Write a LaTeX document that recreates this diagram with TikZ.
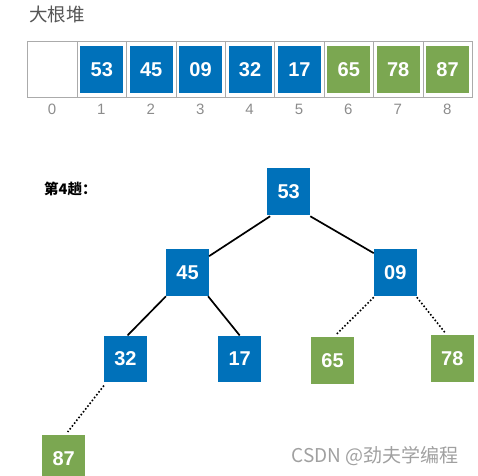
\documentclass[tikz,border=0pt]{standalone}
\usepackage{fontspec}
\setmainfont{Liberation Sans}
\newfontfamily\cjk{Noto Sans CJK SC}
\usetikzlibrary{calc}
\definecolor{hblue}{HTML}{0071BA}
\definecolor{hgreen}{HTML}{7BA751}
\definecolor{cellgray}{HTML}{ABABAB}
\definecolor{idxgray}{HTML}{8C8C8C}
\definecolor{titlegray}{HTML}{555555}
\definecolor{wmgray}{HTML}{A0A0A0}
\begin{document}
\begin{tikzpicture}[x=1pt,y=-1pt,
  cell/.style={draw=cellgray, line width=0.8pt, minimum width=49.4pt, minimum height=55.7pt, inner sep=0pt, anchor=north west},
  key/.style={minimum width=43pt, minimum height=47pt, inner sep=0pt, text=white, font=\bfseries\fontsize{20}{20}\selectfont},
  bluekey/.style={key, fill=hblue},
  greenkey/.style={key, fill=hgreen},
  treekey/.style={minimum width=42.7pt, minimum height=46.7pt},
  idx/.style={text=idxgray, font=\fontsize{15}{15}\selectfont},
  edge/.style={line width=1.7pt},
  dotedge/.style={line width=1.6pt, dotted}]
\useasboundingbox (0,0) rectangle (478,475);
% title
\node[anchor=west, text=titlegray, font=\cjk\fontsize{18.5}{18.5}\selectfont, inner sep=0pt] (title) at (29,14.5) {大根堆};
% array cells
\foreach \i in {0,...,8}{
  \node[cell] (c\i) at ({27.3+49.4*\i},41) {};
  \node[idx] (i\i) at ({27.3+49.4*\i+24.7},109.5) {\i};
}
\foreach \i/\v in {1/53,2/45,3/09,4/32,5/17}{
  \node[bluekey] (a\i) at (c\i.center) {\v};
}
\foreach \i/\v in {6/65,7/78,8/87}{
  \node[greenkey] (a\i) at (c\i.center) {\v};
}
% pass label
\node[anchor=west, font=\cjk\bfseries\fontsize{14.5}{14.5}\selectfont, inner sep=0pt] (pass) at (44,189.3) {第4趟：};
% tree
\node[bluekey, treekey] (n53) at (288.7,191.7) {53};
\node[bluekey, treekey] (n45) at (187.5,272.7) {45};
\node[bluekey, treekey] (n09) at (395.3,272.7) {09};
\node[bluekey, treekey] (n32) at (125.5,359) {32};
\node[bluekey, treekey] (n17) at (239.7,359) {17};
\node[greenkey, treekey] (n65) at (332.5,360.8) {65};
\node[greenkey, treekey] (n78) at (452.3,358.8) {78};
\node[greenkey, treekey] (n87) at (63.7,458.5) {87};
% connectors
\draw[edge] ($(n53.south west)+(3,1)$) -- ($(n45.north east)+(0,7)$);
\draw[edge] ($(n53.south east)+(0,1)$) -- ($(n09.north west)+(0,4)$);
\draw[edge] (n45.south west) -- ($(n32.north)+(2,0)$);
\draw[edge] ($(n45.south east)+(-1,0)$) -- (n17.north);
\draw[dotedge] ($(n09.south west)+(0,1)$) -- ($(n65.north)+(4,-3)$);
\draw[dotedge] ($(n09.south east)+(0,1)$) -- ($(n78.north west)+(14,-3)$);
\draw[dotedge] ($(n32.south west)+(0,3)$) -- ($(n87.north)+(4,-3)$);
% watermark text
\node[anchor=west, text=wmgray, font=\cjk\fontsize{19}{19}\selectfont, inner sep=0pt] (wm) at (291.5,456) {CSDN @劲夫学编程};
\end{tikzpicture}
\end{document}
